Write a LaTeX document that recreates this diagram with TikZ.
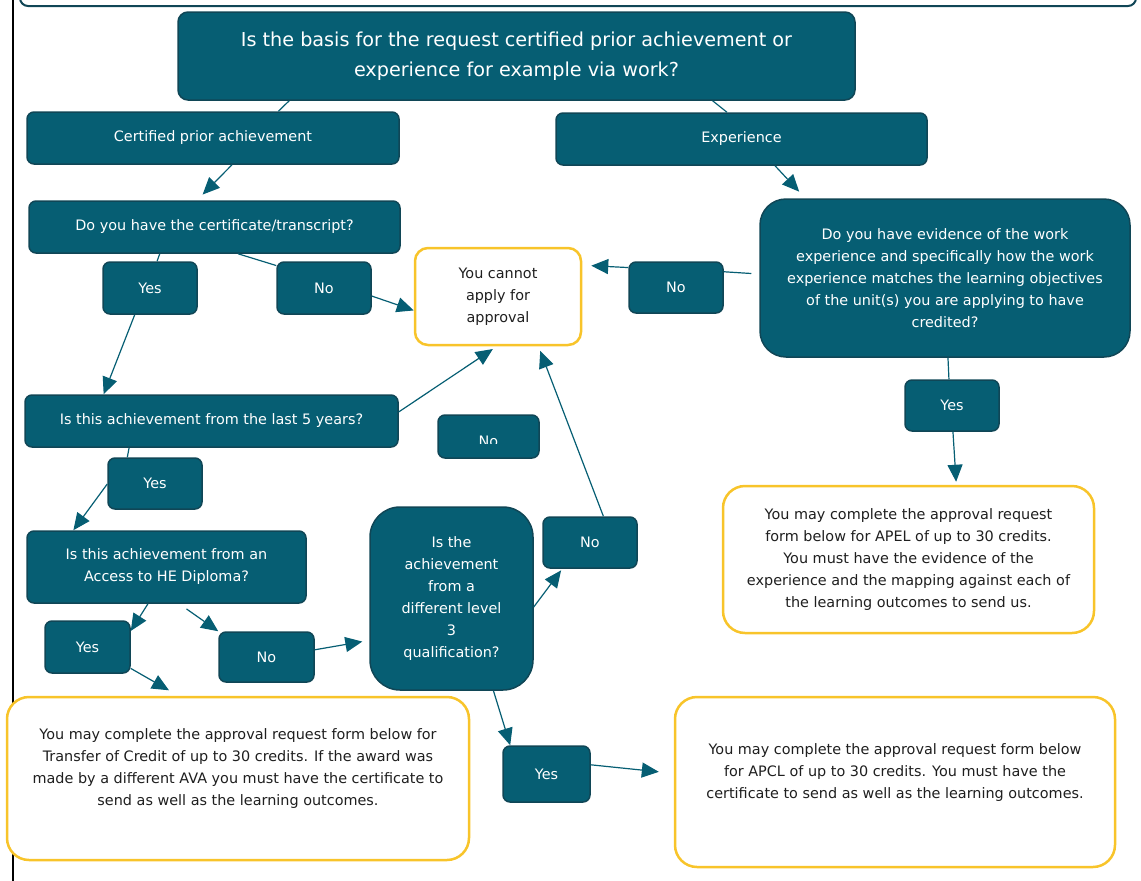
\documentclass[tikz,border=0pt]{standalone}
\usepackage{fontspec}
\setmainfont{DejaVu Sans}
\usetikzlibrary{arrows.meta,calc}
\definecolor{petrol}{RGB}{6,94,115}
\definecolor{petroldark}{RGB}{16,70,86}
\definecolor{gold}{RGB}{248,196,42}
\tikzset{
	qbox/.style={draw=petroldark, line width=1.5pt, fill=petrol, text=white,
		rounded corners=7pt, align=center, inner sep=0pt},
	ansbox/.style={qbox, minimum width=94, minimum height=52},
	endbox/.style={draw=gold, line width=2.5pt, fill=white, text=black!88,
		rounded corners=22pt, align=center, inner sep=0pt},
	link/.style={draw=petrol, line width=1.2pt, -{Triangle[length=17pt,width=15pt]}},
	plink/.style={draw=petrol, line width=1.2pt},
}
\begin{document}
\begin{tikzpicture}[x=1pt, y=-1pt, font=\fontsize{14.4}{22}\selectfont]
		\useasboundingbox (0,0) rectangle (1141,881);
		% Рамка
		\draw[petroldark, line width=2pt, rounded corners=8pt] (20,-30) rectangle (1136,6);
		\draw[black, line width=2pt] (13,-5) -- (13,886);
		
		% Вопросы
		\node[qbox, minimum width=677, minimum height=88, rounded corners=10pt,
		font=\fontsize{19.2}{30}\selectfont] (top) at (516.5,56)
		{Is the basis for the request certified prior achievement or\\experience for example via work?};
		\node[qbox, minimum width=372, minimum height=52] (cert) at (213,138) {Certified prior achievement};
		\node[qbox, minimum width=371, minimum height=52] (exp) at (741.5,139) {Experience};
		\node[qbox, minimum width=371, minimum height=52] (cq) at (214.5,227) {Do you have the certificate/transcript?};
		\node[qbox, minimum width=370, minimum height=158, rounded corners=26pt] (ev) at (945,278)
		{Do you have evidence of the work\\experience and specifically how the work\\experience matches the learning objectives\\of the unit(s) you are applying to have\\credited?};
		\node[qbox, minimum width=373, minimum height=52] (last5) at (211.5,421) {Is this achievement from the last 5 years?};
		\node[qbox, minimum width=279, minimum height=72] (access) at (166.5,567) {Is this achievement from an\\Access to HE Diploma?};
		\node[qbox, minimum width=163, minimum height=183, rounded corners=30pt] (lvl3) at (451.5,598.5)
		{Is the\\achievement\\from a\\different level\\3\\qualification?};
		
		% Ответы
		\node[ansbox] (yes1) at (150,288) {Yes};
		\node[ansbox] (no1) at (324,288) {No};
		\node[ansbox, minimum height=51] (noR) at (676,287.5) {No};
		\node[ansbox, minimum height=51] (yesR) at (952,405.5) {Yes};
		\node[ansbox, minimum height=51] (yes2) at (155,483.5) {Yes};
		\node[ansbox, minimum height=51] (no3) at (590,542.5) {No};
		\node[ansbox, minimum width=85] (yes3) at (87.5,647) {Yes};
		\node[ansbox, minimum width=95, minimum height=50] (no4) at (266.5,657) {No};
		\node[ansbox, minimum width=87, minimum height=56] (yes4) at (546.5,774) {Yes};
		\node[ansbox, minimum width=101, minimum height=43] (nocut) at (488.5,436.5) {};
		\begin{scope}
			\clip (nocut.north west) rectangle ($(nocut.east)+(0pt,-6.5pt)$);
			\node[white, anchor=base] at (488.5,446) {No};
		\end{scope}
		
		% Итоги
		\node[endbox, minimum width=166, minimum height=97, rounded corners=13pt] (cannot) at (498,296.5)
		{You cannot\\apply for\\approval};
		\node[endbox, minimum width=371, minimum height=147] (apel) at (908.5,559.5)
		{You may complete the approval request\\form below for APEL of up to 30 credits.\\You must have the evidence of the\\experience and the mapping against each of\\the learning outcomes to send us.};
		\node[endbox, minimum width=462, minimum height=163] (transfer) at (238,778.5)
		{You may complete the approval request form below for\\Transfer of Credit of up to 30 credits. If the award was\\made by a different AVA you must have the certificate to\\send as well as the learning outcomes.\\\mbox{}};
		\node[endbox, minimum width=440, minimum height=170] (apcl) at (895,782)
		{You may complete the approval request form below\\for APCL of up to 30 credits. You must have the\\certificate to send as well as the learning outcomes.\\\mbox{}};
		
		% Стрелки
		\draw[plink] ($(top.south west)!.165!(top.south east)$) -- ($(cert.north west)!.675!(cert.north east)$);
		\draw[plink] ($(top.south west)!.789!(top.south east)$) -- ($(exp.north west)!.461!(exp.north east)$);
		\draw[link, shorten >=8pt] ($(cert.south west)!.551!(cert.south east)$) -- ($(cq.north west)!.453!(cq.north east)$);
		\draw[link, shorten >=9pt] ($(exp.south west)!.59!(exp.south east)$) -- ($(ev.north west)!.124!(ev.north east)$);
		\draw[plink] ($(cq.south west)!.353!(cq.south east)$) -- ($(yes1.north west)!.574!(yes1.north east)$);
		\draw[plink] ($(cq.south west)!.563!(cq.south east)$) -- ($(no1.north west)!.08!(no1.south west)$);
		\draw[link] ($(no1.north east)!.65!(no1.south east)$) -- ($(cannot.north west)!.64!(cannot.south west)$);
		\draw[plink, shorten <=8pt] ($(ev.north west)!.475!(ev.south west)$) -- ($(noR.north east)!.2!(noR.south east)$);
		\draw[link, shorten >=9pt] ($(noR.north west)!.12!(noR.south west)$) -- ($(cannot.north east)!.186!(cannot.south east)$);
		\draw[plink] ($(ev.south west)!.508!(ev.south east)$) -- ($(yesR.north west)!.468!(yesR.north east)$);
		\draw[link, shorten >=3pt] ($(yesR.south west)!.51!(yesR.south east)$) -- ($(apel.north west)!.628!(apel.north east)$);
		\draw[link] ($(yes1.south west)!.34!(yes1.south east)$) -- ($(last5.north west)!.212!(last5.north east)$);
		\draw[link, shorten >=5pt] ($(last5.north east)!.33!(last5.south east)$) -- ($(cannot.south west)!.494!(cannot.south east)$);
		\draw[plink] ($(last5.south west)!.28!(last5.south east)$) -- ($(yes2.north west)!.21!(yes2.north east)$);
		\draw[link] ($(yes2.north west)!.51!(yes2.south west)$) -- ($(access.north west)!.168!(access.north east)$);
		\draw[link] ($(access.south west)!.434!(access.south east)$) -- ($(yes3.north east)!.2!(yes3.south east)$);
		\draw[link, shorten <=9pt] ($(access.south west)!.545!(access.south east)$) -- (no4.north west);
		\draw[link, shorten >=11pt] ($(yes3.north east)!.9!(yes3.south east)$) -- ($(transfer.north west)!.372!(transfer.north east)$);
		\draw[link, shorten >=7pt] ($(no4.north east)!.36!(no4.south east)$) -- ($(lvl3.north west)!.727!(lvl3.south west)$);
		\draw[link, shorten >=2pt] ($(lvl3.north east)!.546!(lvl3.south east)$) -- ($(no3.south west)!.21!(no3.south east)$);
		\draw[link, shorten >=5pt] ($(no3.north west)!.64!(no3.north east)$) -- ($(cannot.south west)!.74!(cannot.south east)$);
		\draw[link] ($(lvl3.south west)!.755!(lvl3.south east)$) -- ($(yes4.north west)!.09!(yes4.north east)$);
		\draw[link, shorten >=15pt] ($(yes4.north east)!.34!(yes4.south east)$) -- ($(apcl.north west)!.45!(apcl.south west)$);
		
\end{tikzpicture}
\end{document}
